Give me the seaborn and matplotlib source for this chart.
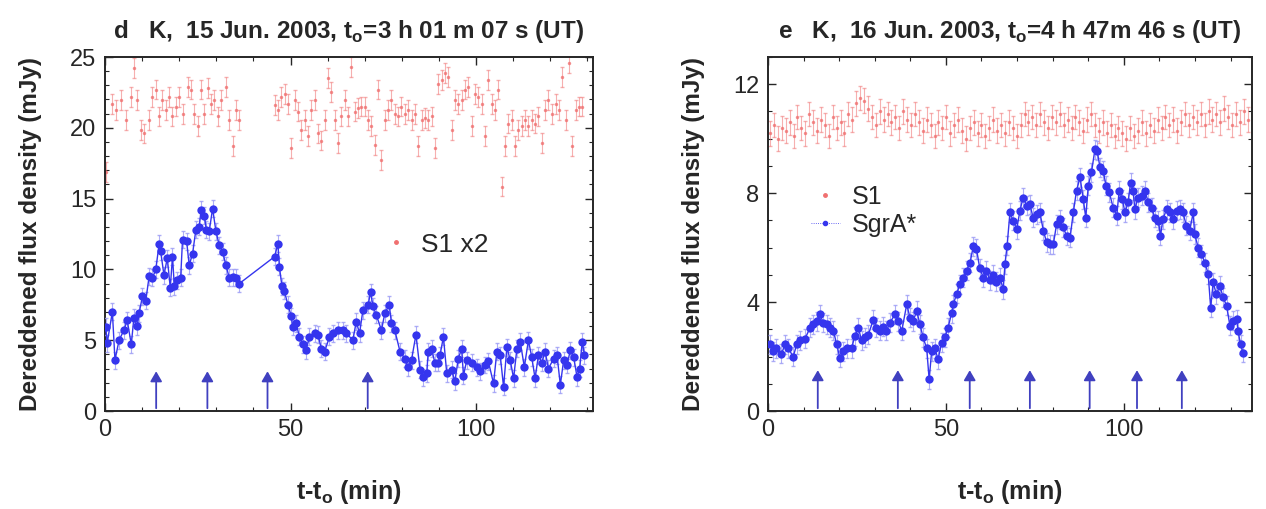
import numpy as np
import pandas as pd
import matplotlib.pyplot as plt
import seaborn as sns
from matplotlib.lines import Line2D
from matplotlib.ticker import MultipleLocator

# ---- panel d : 15 Jun 2003 ----
d_sgra_t = [0.2, 0.6, 2.0, 2.7, 3.8, 5.1, 6.0, 7.1, 7.8, 8.7, 9.2, 10.1, 11.0, 11.9, 12.8,
            13.7, 14.6, 15.0, 15.9, 16.8, 17.6, 18.2, 18.7, 19.5, 20.4, 20.9, 22.0, 22.7,
            23.6, 24.5, 25.4, 25.9, 26.8, 27.3, 28.1, 29.0, 29.9, 30.8, 31.7, 32.6, 33.5,
            34.4, 35.3, 36.2, 45.7, 46.6, 47.0, 47.7, 48.3, 49.3, 50.2, 50.6, 51.5, 52.4,
            53.3, 54.2, 55.1, 56.5, 57.4, 58.3, 59.2, 60.5, 61.4, 62.8, 64.1, 65.0, 66.8,
            67.7, 68.6, 69.5, 70.9, 71.6, 72.2, 73.1, 74.5, 75.4, 76.6, 77.2, 78.1, 79.5,
            80.8, 81.7, 82.6, 83.8, 84.9, 85.8, 86.7, 87.1, 88.0, 88.9, 89.8, 90.3, 91.2,
            92.1, 93.4, 94.3, 95.2, 96.1, 96.6, 97.5, 98.8, 100.2, 101.1, 102.4, 103.3,
            104.7, 105.6, 106.5, 107.4, 108.3, 109.2, 110.1, 111.0, 111.9, 113.0, 114.1,
            115.0, 115.9, 116.8, 117.7, 118.6, 119.5, 120.9, 121.8, 122.7, 123.6, 124.5,
            125.4, 126.3, 127.2, 127.9, 128.6, 129.2]
d_sgra_f = [5.95, 4.8, 7.0, 3.6, 5.0, 5.7, 6.4, 4.7, 6.6, 6.0, 6.9, 8.1, 7.8, 9.5, 9.4,
            10.0, 11.8, 11.3, 9.6, 10.8, 8.7, 10.9, 8.8, 9.25, 9.4, 12.1, 12.0, 10.3,
            11.1, 12.8, 13.0, 14.2, 13.8, 12.8, 12.7, 14.3, 12.7, 11.7, 11.25, 10.3, 9.4,
            9.45, 9.4, 9.0, 10.9, 11.8, 10.2, 8.8, 8.5, 7.5, 6.7, 5.95, 6.2, 5.25,
            4.7, 4.3, 5.25, 5.5, 5.4, 4.4, 4.2, 5.25, 5.5, 5.7, 5.7, 5.5, 5.0,
            6.3, 5.5, 7.1, 7.5, 8.4, 7.4, 6.8, 5.7, 6.9, 7.5, 6.2, 5.7, 4.2,
            3.7, 3.1, 3.6, 5.4, 2.9, 2.4, 2.65, 4.2, 4.4, 3.4, 3.4, 3.95, 5.25,
            2.65, 2.9, 2.1, 3.7, 4.4, 2.5, 3.6, 3.4, 3.1, 2.8, 3.25, 3.5,
            1.95, 4.2, 3.95, 1.7, 4.5, 3.6, 2.3, 4.4, 4.9, 3.1, 5.0,
            3.8, 2.3, 3.95, 3.4, 4.2, 3.0, 3.7, 3.95, 1.85, 3.6, 3.25,
            4.3, 3.8, 2.4, 3.0, 4.9, 3.95]

d_s1_t = [0.3, 2.0, 2.9, 4.2, 5.6, 6.9, 7.8, 8.7, 9.6, 10.5, 11.9, 12.8, 13.7, 14.6, 15.5,
          16.4, 17.3, 18.2, 19.1, 20.0, 20.9, 22.3, 23.2, 24.1, 25.0, 25.9, 26.8, 27.7,
          28.6, 29.5, 30.4, 31.3, 32.6, 33.5, 34.4, 35.3, 36.2, 45.7, 46.6, 47.5, 48.4,
          49.3, 50.2, 51.1, 52.0, 52.9, 53.8, 54.7, 55.6, 56.5, 57.4, 58.3, 59.2, 60.1,
          61.0, 61.9, 62.8, 63.7, 64.6, 65.5, 66.4, 67.3, 68.2, 69.1, 70.0, 70.9, 71.8,
          72.7, 73.6, 74.5, 75.4, 76.3, 77.2, 78.1, 79.0, 79.9, 80.8, 81.7, 82.6, 83.5,
          84.4, 85.3, 86.2, 87.1, 88.0, 88.9, 89.8, 90.7, 91.6, 92.5, 93.4, 94.3, 95.2,
          96.1, 97.0, 97.9, 98.8, 99.7, 100.6, 101.5, 102.4, 103.3, 104.2, 105.1, 106.0,
          106.9, 107.8, 108.7, 109.6, 110.5, 111.4, 112.3, 113.2, 114.1, 115.0, 115.9,
          116.8, 117.7, 118.6, 119.5, 120.5, 121.4, 122.3, 123.2, 124.1, 125.0, 125.9,
          126.8, 127.7, 128.6]
d_s1_f = [16.9, 21.7, 21.25, 21.95, 20.55, 22.2, 24.2, 21.95, 19.85, 19.6, 20.55, 22.2,
          22.7, 20.8, 21.95, 21.25, 22.2, 20.8, 21.5, 22.2, 21.0, 22.9, 22.7, 21.0, 20.1,
          22.7, 21.0, 22.8, 21.7, 21.95, 20.8, 21.95, 22.9, 20.55, 18.7, 21.25, 20.55,
          21.6, 21.25, 22.2, 22.4, 21.7, 18.55, 21.95, 21.15, 19.85, 20.55, 19.4, 21.25,
          21.95, 19.6, 19.1, 20.55, 23.5, 22.55, 20.55, 18.9, 20.8, 21.95, 20.8, 24.3,
          21.15, 21.4, 21.5, 21.5, 20.55, 20.1, 18.8, 22.7, 17.7, 20.55, 21.25, 21.95,
          21.0, 20.8, 21.5, 21.0, 21.25, 20.55, 21.0, 18.7, 20.55, 20.7, 20.55, 20.8,
          18.55, 23.1, 23.4, 23.85, 23.6, 19.85, 21.95, 21.7, 21.95, 22.7, 22.9, 20.1,
          22.4, 22.2, 21.7, 19.4, 23.4, 21.7, 21.25, 22.7, 15.85, 18.7, 20.3, 20.55,
          18.7, 19.85, 20.1, 20.55, 20.1, 20.55, 20.3, 20.8, 18.9, 21.25, 21.95, 21.0,
          21.7, 21.25, 23.6, 20.55, 24.55, 18.7, 21.25, 21.5, 21.5]

d_arrows = [13.8, 27.6, 43.8, 70.8]

# ---- panel e : 16 Jun 2003 ----
e_sgra_t = [0.6, 1.5, 2.4, 3.8, 4.8, 5.7, 7.1, 8.1, 9.0, 10.4, 11.8, 12.7, 13.7, 14.6, 15.5,
            16.5, 17.4, 18.4, 19.3, 20.2, 21.2, 22.1, 23.5, 24.4, 25.4, 26.3, 27.2, 28.2,
            29.6, 30.5, 31.5, 32.4, 33.3, 34.3, 35.7, 36.6, 37.6, 39.0, 39.9, 40.8, 41.8,
            42.7, 43.6, 44.6, 45.3, 46.0, 46.9, 47.8, 48.8, 49.7, 50.6, 51.6, 52.1, 53.0,
            54.0, 54.9, 55.8, 56.8, 57.7, 58.6, 59.5, 60.5, 61.4, 62.4, 63.3, 64.2, 65.2,
            66.1, 66.6, 67.2, 68.0, 68.9, 69.9, 70.8, 71.7, 72.7, 73.6, 74.5, 75.5, 76.4,
            77.4, 78.3, 79.2, 80.2, 81.1, 82.0, 83.0, 83.9, 84.9, 85.8, 86.7, 87.7, 88.6,
            89.3, 90.0, 90.9, 91.9, 92.5, 93.3, 94.2, 95.0, 95.9, 97.0, 98.0, 98.7, 99.6,
            100.3, 101.2, 101.9, 102.6, 103.1, 104.0, 105.0, 105.9, 106.9, 107.8, 108.7,
            109.7, 110.3, 111.0, 112.0, 112.9, 113.8, 114.8, 115.7, 116.6, 117.6, 118.5,
            119.5, 119.9, 120.9, 121.8, 122.8, 123.7, 124.4, 125.1, 126.0, 127.0, 127.9,
            128.9, 129.8, 130.7, 131.7, 132.1, 132.8, 133.5]
e_sgra_f = [2.45, 2.2, 2.3, 2.1, 2.45, 2.3, 2.0, 2.45, 2.6, 2.65, 3.05, 3.19, 3.3, 3.55, 3.25,
            3.19, 3.05, 2.94, 2.45, 1.96, 2.2, 2.3, 2.3, 2.75, 3.05, 2.6, 2.7, 2.8,
            3.35, 3.05, 2.94, 3.1, 2.94, 3.25, 3.55, 3.3, 2.94, 3.92, 3.43, 3.3, 3.68,
            3.19, 2.7, 2.3, 1.16, 2.2, 2.3, 1.9, 2.5, 2.7, 3.05, 3.6, 3.92, 4.3,
            4.66, 4.9, 5.15, 5.45, 6.05, 5.95, 5.25, 4.9, 5.15, 4.8, 5.0, 4.75, 4.9,
            4.47, 5.39, 6.07, 7.29, 6.99, 6.68, 7.35, 7.84, 7.54, 7.6, 7.1, 7.23, 7.29,
            6.62, 6.19, 6.13, 6.13, 6.86, 7.05, 6.74, 6.43, 6.37, 7.29, 8.09, 8.58, 7.78,
            7.1, 8.27, 8.76, 9.62, 9.56, 8.95, 8.82, 8.27, 8.03, 7.47, 7.17, 8.09, 7.78,
            7.29, 7.66, 8.39, 8.09, 7.41, 7.84, 7.9, 8.09, 7.66, 7.47, 7.1,
            6.99, 6.43, 7.05, 7.41, 7.29, 7.05, 7.35, 7.41, 7.29, 6.8, 6.62,
            7.29, 6.5, 6.0, 5.76, 5.45, 5.03, 3.8, 4.72, 4.29, 4.6, 4.17,
            3.86, 3.13, 3.31, 3.37, 2.94, 2.45, 2.14]

e_s1_t = [0.6, 1.7, 2.8, 3.9, 5.0, 6.1, 7.2, 8.3, 9.4, 10.5, 11.6, 12.7, 13.8, 14.9, 16.0,
          17.1, 18.2, 19.3, 20.4, 21.5, 22.6, 23.7, 24.8, 25.9, 27.0, 28.1, 29.2, 30.3,
          31.4, 32.5, 33.6, 34.7, 35.8, 36.9, 38.0, 39.1, 40.2, 41.3, 42.4, 43.5, 44.6,
          45.7, 46.8, 47.9, 49.0, 50.1, 51.2, 52.3, 53.4, 54.5, 55.6, 56.7, 57.8, 58.9,
          60.0, 61.1, 62.2, 63.3, 64.4, 65.5, 66.6, 67.7, 68.8, 69.9, 71.0, 72.1, 73.2,
          74.3, 75.4, 76.5, 77.6, 78.7, 79.8, 80.9, 82.0, 83.1, 84.2, 85.3, 86.4, 87.5,
          88.6, 89.7, 90.8, 91.9, 93.0, 94.1, 95.2, 96.3, 97.4, 98.5, 99.6, 100.7, 101.8,
          102.9, 104.0, 105.1, 106.2, 107.3, 108.4, 109.5, 110.6, 111.7, 112.8, 113.9,
          115.0, 116.1, 117.2, 118.3, 119.4, 120.5, 121.6, 122.7, 123.8, 124.9, 126.0,
          127.1, 128.2, 129.3, 130.4, 131.5, 132.6, 133.7, 134.8]
e_s1_f = [10.2, 10.5, 10.0, 10.4, 10.3, 10.6, 10.1, 10.8, 10.4, 10.2, 10.9, 10.6, 10.3, 10.7,
          10.5, 10.1, 10.8, 10.4, 10.6, 10.2, 10.9, 10.7, 11.3, 11.5, 11.4, 11.1, 10.8, 10.5,
          11.0, 10.7, 10.9, 10.6, 10.8, 10.4, 11.0, 10.7, 10.5, 10.9, 10.6, 10.3, 10.7,
          10.5, 10.1, 10.6, 10.4, 10.8, 10.2, 10.5, 10.7, 10.3, 10.0, 10.4, 10.6, 10.2,
          10.5, 10.1, 10.4, 10.7, 10.3, 10.5, 10.2, 10.6, 10.4, 10.1, 10.5, 10.9, 10.6,
          10.8, 10.5, 10.9, 10.6, 10.4, 10.8, 10.6, 10.9, 10.5, 10.7, 10.4, 10.8, 10.6,
          10.3, 10.7, 10.9, 10.5, 10.3, 10.6, 10.2, 10.5, 10.1, 10.4, 10.2, 10.0, 10.4,
          10.1, 10.3, 10.6, 10.2, 10.5, 10.3, 10.7, 10.4, 10.8, 10.5, 10.7,
          10.3, 10.6, 10.9, 10.5, 10.8, 10.6, 10.9, 10.5, 11.0, 10.7, 10.9,
          10.6, 11.1, 10.8, 10.5, 10.9, 10.6, 11.0, 10.7]

e_arrows = [14.0, 36.5, 56.7, 73.6, 90.4, 103.7, 116.3]

titles = ["d   K,  15 Jun. 2003, t$_\\mathbf{o}$=3 h 01 m 07 s (UT)",
          "e   K,  16 Jun. 2003, t$_\\mathbf{o}$=4 h 47m 46 s (UT)"]

sns.set_style("ticks")
plt.rcParams["font.family"] = ["Liberation Sans", "DejaVu Sans"]
plt.rcParams["mathtext.fontset"] = "custom"
plt.rcParams["mathtext.bf"] = "Liberation Sans:bold"
plt.rcParams["mathtext.rm"] = "Liberation Sans"

blue = "#3535ee"
red = "#f07070"

fig = plt.figure(figsize=(12.66, 5.09), dpi=100)
ax1 = fig.add_axes([0.0829, 0.1925, 0.3855, 0.6955])
ax2 = fig.add_axes([0.6066, 0.1925, 0.3823, 0.6955])

panels = [
    (ax1, d_sgra_t, d_sgra_f, d_s1_t, d_s1_f, d_arrows, 0.6, 0.7, 3.0, (0, 131.5), (0, 25), 5),
    (ax2, e_sgra_t, e_sgra_f, e_s1_t, e_s1_f, e_arrows, 0.35, 0.45, 1.6, (0, 136), (0, 13), 4),
]

for i, (ax, st, sf, rt, rf, arr, serr, rerr, ah, xl, yl, ymaj) in enumerate(panels):
    sgra = pd.DataFrame({"t": st, "flux": sf})
    s1 = pd.DataFrame({"t": rt, "flux": rf})

    # S1 reference star
    ax.errorbar(s1.t, s1.flux, yerr=rerr, fmt="none", ecolor=red, elinewidth=0.8,
                capsize=1.5, alpha=0.55, zorder=1)
    sns.scatterplot(data=s1, x="t", y="flux", ax=ax, color=red, s=6, linewidth=0,
                    alpha=0.8, zorder=2, legend=False)

    # SgrA*
    ax.errorbar(sgra.t, sgra.flux, yerr=serr, fmt="none", ecolor="#9a9af5", elinewidth=0.8,
                capsize=1.5, alpha=0.8, zorder=3)
    sns.lineplot(data=sgra, x="t", y="flux", ax=ax, color=blue, lw=1.0, marker="o",
                 markersize=6, markeredgewidth=0, zorder=4, sort=False)

    # flare sub-peaks
    for a in arr:
        ax.annotate("", xy=(a, ah), xytext=(a, 0),
                    arrowprops=dict(arrowstyle="-|>,head_length=0.6,head_width=0.35",
                                    color="#4040c0", lw=1.3), zorder=5)

    ax.set_xlim(*xl)
    ax.set_ylim(*yl)
    ax.xaxis.set_major_locator(MultipleLocator(50))
    ax.xaxis.set_minor_locator(MultipleLocator(10))
    ax.yaxis.set_major_locator(MultipleLocator(ymaj))
    ax.yaxis.set_minor_locator(MultipleLocator(1))
    ax.tick_params(which="both", direction="in", top=True, right=True, labelsize=17)
    ax.tick_params(which="major", length=6, width=1, pad=6)
    ax.tick_params(which="minor", length=3, width=0.8)
    for sp in ax.spines.values():
        sp.set_linewidth(1.4)

    ax.set_title(titles[i], fontsize=17.5, fontweight="bold", pad=14)
    ax.set_xlabel("t-t$_\\mathbf{o}$ (min)", fontsize=18, fontweight="bold")
    ax.set_ylabel("Dereddened flux density (mJy)", fontsize=17.5, fontweight="bold")
    ax.yaxis.set_label_coords(-0.13, 0.5)
    ax.xaxis.set_label_coords(0.5, -0.19)

s1_handle = Line2D([], [], color=red, marker="o", markersize=2.5, lw=0)
sgra_handle = Line2D([], [], color=blue, marker="o", markersize=3, lw=0.6, ls=":")

ax1.legend([s1_handle], ["S1 x2"], frameon=False, fontsize=19, loc="center left",
           bbox_to_anchor=(0.516, 0.47), handlelength=1.2, handletextpad=0.35)
ax2.legend([s1_handle, sgra_handle], ["S1", "SgrA*"], frameon=False, fontsize=18,
           loc="center left", bbox_to_anchor=(0.042, 0.565), handlelength=1.16,
           labelspacing=0.15, handletextpad=0.5)

fig.savefig("out.png", dpi=100)
